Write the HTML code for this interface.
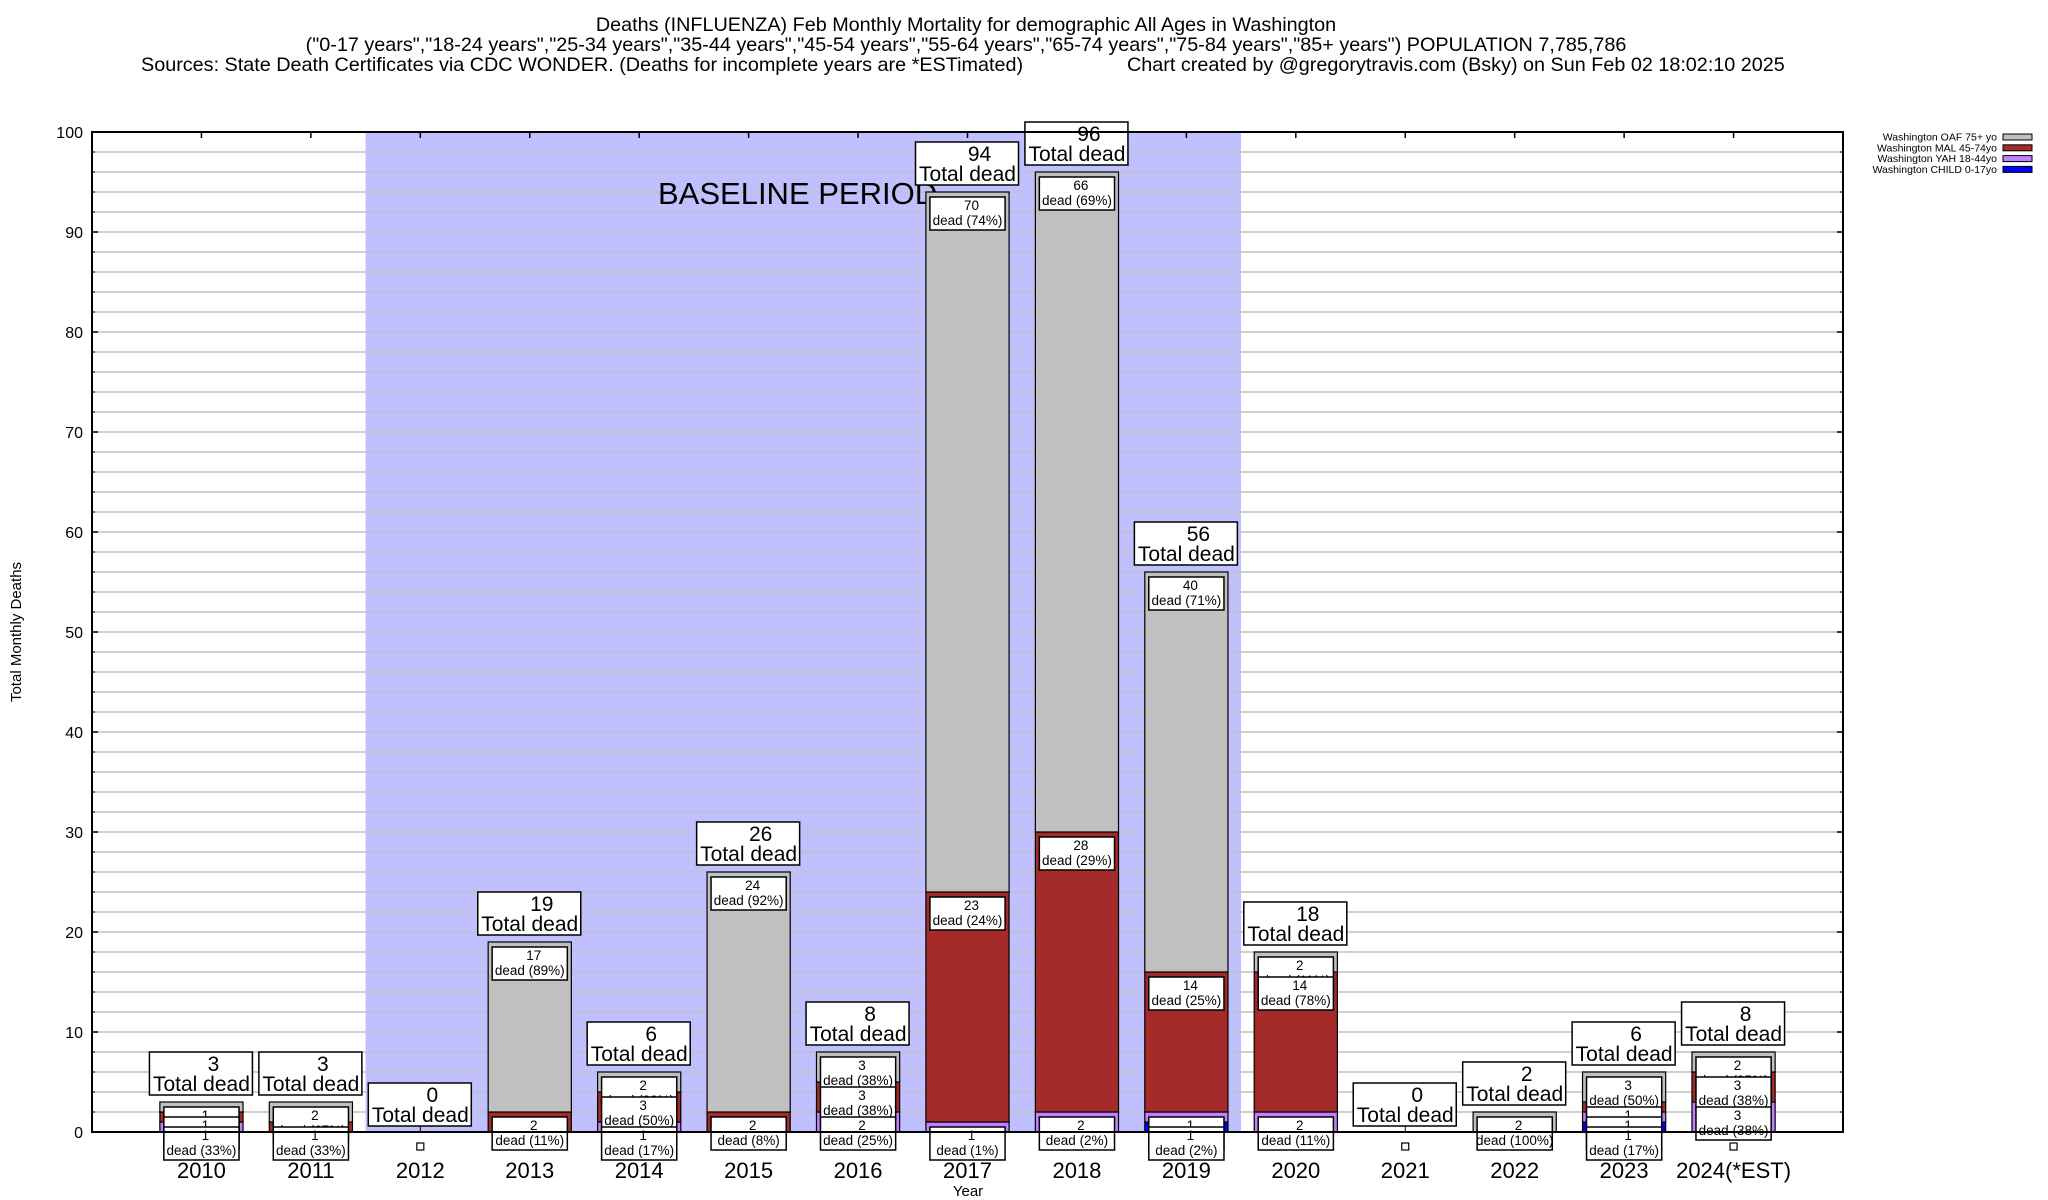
<!DOCTYPE html>
<html><head><meta charset="utf-8"><style>
html,body{margin:0;padding:0;background:#fff;}
svg{display:block;font-family:"Liberation Sans",sans-serif;}
</style></head><body>
<svg id="chart" width="2048" height="1200" viewBox="0 0 2048 1200" xmlns="http://www.w3.org/2000/svg">
<text x="966" y="31" text-anchor="middle" font-size="19.8">Deaths (INFLUENZA) Feb Monthly Mortality for demographic All Ages in Washington</text>
<text x="966" y="51" text-anchor="middle" font-size="19.8">("0-17 years","18-24 years","25-34 years","35-44 years","45-54 years","55-64 years","65-74 years","75-84 years","85+ years") POPULATION 7,785,786</text>
<text x="141" y="71" font-size="19.8">Sources: State Death Certificates via CDC WONDER. (Deaths for incomplete years are *ESTimated)</text>
<text x="1127" y="71" font-size="19.8">Chart created by @gregorytravis.com (Bsky) on Sun Feb 02 18:02:10 2025</text>
<g id="plot"></g>
</svg>
<script>
const years = ["2010","2011","2012","2013","2014","2015","2016","2017","2018","2019","2020","2021","2022","2023","2024(*EST)"];
const child = [0,0,0,0,0,0,0,0,0,1,0,0,0,1,0];
const yah   = [1,0,0,0,1,0,2,1,2,1,2,0,0,1,3];
const mal   = [1,1,0,2,3,2,3,23,28,14,14,0,0,1,3];
const oaf   = [1,2,0,17,2,24,3,70,66,40,2,0,2,3,2];
const yTicks = [0,10,20,30,40,50,60,70,80,90,100];
const baselineStart = 1.5, baselineEnd = 9.5;

const L=92,R=1843,T=132,B=1132,NS="http://www.w3.org/2000/svg";
const step=(R-L)/(years.length+1);
const xS=i=>L+step*(i+1);
const yS=v=>B-(B-T)*v/100;
const g=document.getElementById('plot');
function el(tag,attrs,parent){const e=document.createElementNS(NS,tag);for(const k in attrs)e.setAttribute(k,attrs[k]);(parent||g).appendChild(e);return e;}

let band=el('rect',{x:xS(baselineStart),y:T,width:xS(baselineEnd)-xS(baselineStart),height:B-T,fill:'#c0c0ff'});


for(let v=2;v<100;v+=2){
  let gl=el('line',{x1:L,x2:R,y1:yS(v),y2:yS(v),stroke:'#c0c0c0','stroke-width':1.5});
  
  
}
let bt=el('text',{x:658,y:204,'font-size':31});
bt.textContent='BASELINE PERIOD';



yTicks.forEach(v=>{
  let t=el('text',{x:83,y:yS(v)+6,'text-anchor':'end','font-size':16});
  t.textContent=v;
  
  
  el('line',{x1:L,x2:L+6,y1:yS(v),y2:yS(v),stroke:'#000','stroke-width':1.5});
  el('line',{x1:R-6,x2:R,y1:yS(v),y2:yS(v),stroke:'#000','stroke-width':1.5});
});
for(let v=2;v<100;v+=2){el('line',{x1:L,x2:L+3,y1:yS(v),y2:yS(v),stroke:'#000'});el('line',{x1:R-3,x2:R,y1:yS(v),y2:yS(v),stroke:'#000'});}

const series=[{d:child,c:'#0000ff',n:'child'},{d:yah,c:'#c080ff',n:'yah'},{d:mal,c:'#a52a2a',n:'mal'},{d:oaf,c:'#c0c0c0',n:'oaf'}];
const bw=step*0.76;
years.forEach((yr,i)=>{
  const cx=xS(i);
  el('line',{x1:cx,x2:cx,y1:T,y2:T+6,stroke:'#000','stroke-width':1.5});
  let mk=el('rect',{x:cx-3.5,y:1143,width:7,height:7,fill:'#fff',stroke:'#000','stroke-width':1.2});
  
  
  let total=0;series.forEach(s=>total+=s.d[i]);
  let base=0;const segs=[];
  series.forEach(s=>{
    const v=s.d[i];
    if(v>0){
      let r=el('rect',{x:cx-bw/2,y:yS(base+v),width:bw,height:yS(base)-yS(base+v),fill:s.c,stroke:'#000','stroke-width':1.2});
      
      
      segs.push({top:base+v,v:v});
    }
    base+=v;
  });
  segs.reverse().forEach(sg=>{
    const by=yS(sg.top)+5;
    let bx=el('rect',{x:cx-bw/2+4,y:by,width:bw-8,height:33,fill:'#fff',stroke:'#000','stroke-width':1.5});
    
    
    let t1=el('text',{x:cx+4,y:by+13,'text-anchor':'middle','font-size':13.5});
    t1.textContent=sg.v;
    
    
    let t2=el('text',{x:cx,y:by+28,'text-anchor':'middle','font-size':13.5});
    t2.textContent='dead ('+Math.round(sg.v/total*100)+'%)';
    
    
  });
  const tb=total>0?yS(total)-7:1126;
  if(total===0) el('line',{x1:cx,x2:cx,y1:tb,y2:B,stroke:'#000'});
  let tbox=el('rect',{x:cx-52,y:tb-43,width:103,height:43,fill:'#fff',stroke:'#000','stroke-width':1.5});
  
  
  let n=el('text',{x:cx+12,y:tb-24,'text-anchor':'middle','font-size':21});
  n.textContent=total;
  
  
  let td=el('text',{x:cx,y:tb-4,'text-anchor':'middle','font-size':21});
  td.textContent='Total dead';
  
  
  let xl=el('text',{x:cx,y:1178,'text-anchor':'middle','font-size':22});
  xl.textContent=yr;
  
  
});
let fr=el('rect',{x:L,y:T,width:R-L,height:B-T,fill:'none',stroke:'#000','stroke-width':2});


let xt=el('text',{x:968,y:1196,'text-anchor':'middle','font-size':15});
xt.textContent='Year';


let yt=el('text',{x:0,y:0,'text-anchor':'middle','font-size':15,transform:'translate(21,632) rotate(-90)'});
yt.textContent='Total Monthly Deaths';


const legNames=['Washington OAF 75+ yo','Washington MAL 45-74yo','Washington YAH 18-44yo','Washington CHILD 0-17yo'];
const legColors=['#c0c0c0','#a52a2a','#c080ff','#0000ff'];
legNames.forEach((nm,k)=>{
  const y=137+k*10.8;
  let lt=el('text',{x:1997,y:y+3.5,'text-anchor':'end','font-size':10.5});
  lt.textContent=nm;
  
  
  let lr=el('rect',{x:2003,y:y-3,width:29,height:6,fill:legColors[k],stroke:'#000','stroke-width':1});
  
  
});
</script>
</body></html>
